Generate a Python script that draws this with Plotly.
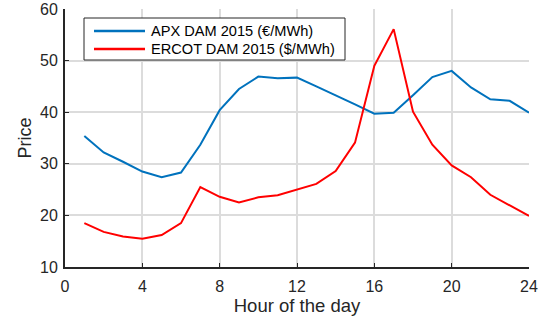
import plotly.graph_objects as go

hours = list(range(1, 25))
apx = [35.4, 32.2, 30.4, 28.5, 27.4, 28.3, 33.7, 40.4, 44.5, 46.9, 46.6, 46.7,
       45.0, 43.3, 41.5, 39.7, 39.9, 43.3, 46.8, 48.0, 44.8, 42.5, 42.2, 39.9]
ercot = [18.5, 16.8, 15.9, 15.5, 16.2, 18.5, 25.5, 23.6, 22.5, 23.5, 23.9, 25.0,
         26.1, 28.6, 34.1, 49.0, 56.1, 40.1, 33.7, 29.7, 27.4, 24.0, 21.9, 19.9]
series_names = ["APX DAM 2015 (€/MWh)", "ERCOT DAM 2015 ($/MWh)"]
series_colors = ["#0072BD", "#FF0000"]
x_ticks = [0, 4, 8, 12, 16, 20, 24]
y_ticks = [10, 20, 30, 40, 50, 60]

W, H = 544, 322
ML, MR, MT, MB = 65, 15, 9, 55
PW, PH = W - ML - MR, H - MT - MB


def px_x(p):
    return (p - ML) / PW


def px_y(p):
    return (H - MB - p) / PH


fig = go.Figure()
for name, ys, col in zip(series_names, [apx, ercot], series_colors):
    fig.add_trace(go.Scatter(x=hours, y=ys, mode="lines", name=name,
                             line=dict(color=col, width=2), showlegend=False))

# custom legend (box, line samples, labels)
shapes = [dict(type="rect", xref="paper", yref="paper",
               x0=px_x(84), x1=px_x(345), y0=px_y(60), y1=px_y(18),
               line=dict(color="#262626", width=1), fillcolor="white", layer="above")]
annotations = []
for i, (name, col) in enumerate(zip(series_names, series_colors)):
    yy = px_y(31 + 18 * i)
    shapes.append(dict(type="line", xref="paper", yref="paper",
                       x0=px_x(94), x1=px_x(145), y0=yy, y1=yy,
                       line=dict(color=col, width=2.5), layer="above"))
    annotations.append(dict(xref="paper", yref="paper", x=px_x(149), y=yy,
                            xanchor="left", yanchor="middle", text=name,
                            showarrow=False, font=dict(size=14.6, color="#000000")))

font = "Liberation Sans, Arial, sans-serif"
axis_common = dict(showgrid=True, gridcolor="#dcdcdc", gridwidth=1.5,
                   showline=True, linecolor="#262626", linewidth=2,
                   ticks="inside", ticklen=4, tickcolor="#262626", zeroline=False,
                   automargin=False, tickfont=dict(size=16))
fig.update_layout(
    width=W, height=H,
    margin=dict(l=ML, r=MR, t=MT, b=MB),
    paper_bgcolor="white", plot_bgcolor="white",
    font=dict(family=font, size=16, color="#262626"),
    showlegend=False,
    shapes=shapes, annotations=annotations,
    xaxis=dict(range=[0, 24], tickvals=x_ticks, ticklabelstandoff=4,
               title=dict(text="Hour of the day", font=dict(size=18.5), standoff=2),
               **axis_common),
    yaxis=dict(range=[10, 60], tickvals=y_ticks, ticklabelstandoff=2,
               title=dict(text="Price", font=dict(size=18), standoff=4),
               **axis_common),
)
fig.write_html("out.html")
